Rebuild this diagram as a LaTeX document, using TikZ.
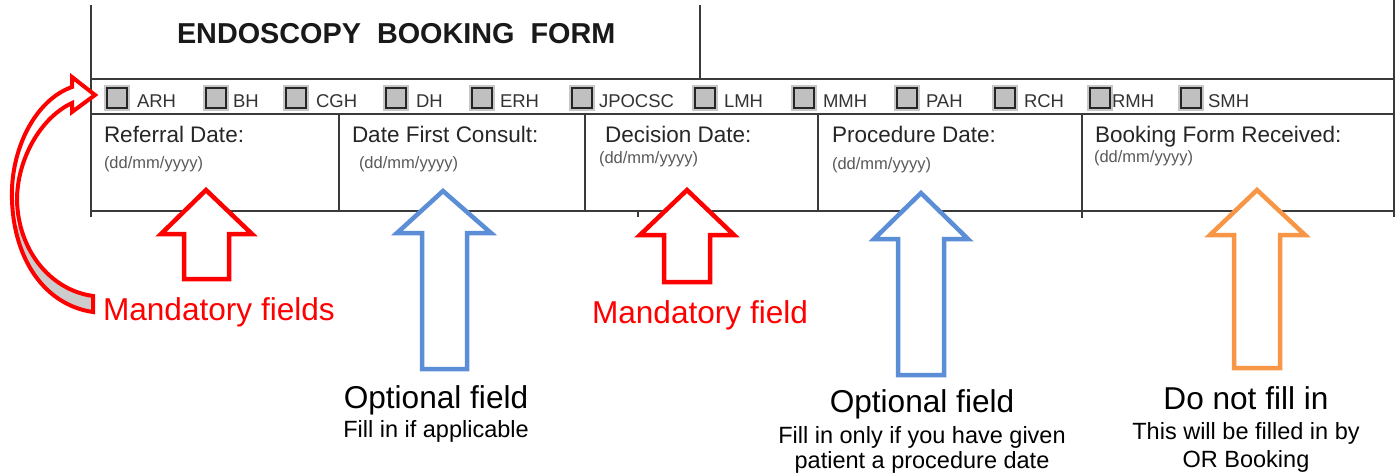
\documentclass[tikz,border=0pt]{standalone}
\usepackage{fontspec}
\setmainfont{Liberation Sans}
\usepackage{tikz}
\definecolor{markred}{HTML}{FF0000}
\definecolor{markblue}{HTML}{5B8ED6}
\definecolor{markorange}{HTML}{F79646}
\definecolor{formgrey}{HTML}{3A3A3A}
\definecolor{boxfill}{HTML}{C0C0C0}

\begin{document}
\begin{tikzpicture}[x=1pt,y=-1pt,inner sep=0pt,outer sep=0pt]
	\tikzset{formline/.style={draw=formgrey,line width=2pt}}
	\tikzset{tickbox/.style={draw=black!85,line width=2pt,fill=boxfill,minimum size=20pt,preaction={draw=black!22,line width=6pt}}}
	\tikzset{boxtext/.style={anchor=base west,text=black!80,font=\fontsize{18.5}{18.5}\selectfont}}
	\tikzset{fieldtext/.style={anchor=base west,text=black!85,font=\fontsize{22.5}{22.5}\selectfont}}
	\tikzset{datetext/.style={anchor=base west,text=black!65,font=\fontsize{16.5}{16.5}\selectfont}}
	\tikzset{bignote/.style={anchor=base,font=\fontsize{31.6}{31.6}\selectfont}}
	\tikzset{smallnote/.style={anchor=base,font=\fontsize{23.5}{23.5}\selectfont}}
	\tikzset{blockarrow/.style={fill=white,line width=4.5pt}}
	\useasboundingbox (0,0) rectangle (1397,475);
	\draw[formline] (91,5) -- (91,217);
	\draw[formline] (1394,0) -- (1394,217);
	\draw[formline] (700,5) -- (700,79);
	\draw[formline] (91,79) -- (1394,79);
	\draw[formline] (91,114) -- (1394,114);
	\draw[formline] (91,211) -- (1394,211);
	\draw[formline] (339,114) -- (339,211);
	\draw[formline] (585,114) -- (585,211);
	\draw[formline] (818,114) -- (818,211);
	\draw[formline] (1082,114) -- (1082,218);
	\draw[formline] (638,211) -- (638,217);
	\node[anchor=base west,text=black!90,font=\fontsize{28.8}{30}\selectfont\bfseries] (title) at (177,43) {ENDOSCOPY\ \ BOOKING\ \ FORM};
	\node[tickbox] (bxARH) at (116.5,98) {};
	\node[boxtext] (lbARH) at (137,107) {ARH};
	\node[tickbox] (bxBH) at (215.5,98) {};
	\node[boxtext] (lbBH) at (233,107) {BH};
	\node[tickbox] (bxCGH) at (295.5,98) {};
	\node[boxtext] (lbCGH) at (316,107) {CGH};
	\node[tickbox] (bxDH) at (395.5,98) {};
	\node[boxtext] (lbDH) at (416,107) {DH};
	\node[tickbox] (bxERH) at (481.5,98) {};
	\node[boxtext] (lbERH) at (500,107) {ERH};
	\node[tickbox] (bxJPOCSC) at (581.5,98) {};
	\node[boxtext] (lbJPOCSC) at (599,107) {JPOCSC};
	\node[tickbox] (bxLMH) at (704.5,98) {};
	\node[boxtext] (lbLMH) at (724,107) {LMH};
	\node[tickbox] (bxMMH) at (803.5,98) {};
	\node[boxtext] (lbMMH) at (823,107) {MMH};
	\node[tickbox] (bxPAH) at (906.5,98) {};
	\node[boxtext] (lbPAH) at (926,107) {PAH};
	\node[tickbox] (bxRCH) at (1004.5,98) {};
	\node[boxtext] (lbRCH) at (1024,107) {RCH};
	\node[tickbox] (bxRMH) at (1099.5,98) {};
	\node[boxtext] (lbRMH) at (1112,107) {RMH};
	\node[tickbox] (bxSMH) at (1190.5,98) {};
	\node[boxtext] (lbSMH) at (1208,107) {SMH};
	\node[fieldtext] (referral) at (104,142) {Referral\ Date:};
	\node[datetext] (referraldd) at (104,168) {(dd/mm/yyyy)};
	\node[fieldtext] (consult) at (352,142) {Date First Consult:};
	\node[datetext] (consultdd) at (359,168) {(dd/mm/yyyy)};
	\node[fieldtext] (decision) at (605,142) {Decision Date:};
	\node[datetext] (decisiondd) at (599,163) {(dd/mm/yyyy)};
	\node[fieldtext] (procedure) at (832,142) {Procedure Date:};
	\node[datetext] (proceduredd) at (832,169) {(dd/mm/yyyy)};
	\node[fieldtext] (received) at (1095,142) {Booking Form Received:};
	\node[datetext] (receiveddd) at (1094,162) {(dd/mm/yyyy)};
	\draw[blockarrow,draw=markred] (161,234) -- (206,190) -- (252,234) -- (229,234) -- (229,279) -- (184,279) -- (184,234) -- cycle;
	\draw[blockarrow,draw=markblue] (397,233) -- (443,191) -- (491,233) -- (467,233) -- (467,369) -- (422,369) -- (422,233) -- cycle;
	\draw[blockarrow,draw=markred] (640,235) -- (687,190) -- (734,235) -- (710,235) -- (710,282) -- (664,282) -- (664,235) -- cycle;
	\draw[blockarrow,draw=markblue] (874,239) -- (921,193) -- (968,239) -- (944,239) -- (944,375) -- (898,375) -- (898,239) -- cycle;
	\draw[blockarrow,draw=markorange] (1210,235) -- (1257,190) -- (1305,235) -- (1280,235) -- (1280,368) -- (1234,368) -- (1234,235) -- cycle;
	\fill[white] (72,87) -- (72,77) -- (95,95) -- (72,112) -- (72,103) .. controls (40,118) and (17,160) .. (17,200) .. controls (18,250) and (50,290) .. (93,296) -- (93,312) .. controls (45,305) and (14,260) .. (12,200) .. controls (10,150) and (35,100) .. (72,87) -- cycle;
	\begin{scope}
		\clip (0,226) rectangle (100,330);
		\fill[black!20] (72,103) .. controls (40,118) and (17,160) .. (17,200) .. controls (18,250) and (50,290) .. (93,296) -- (93,312) .. controls (45,305) and (14,260) .. (12,200) .. controls (10,150) and (35,100) .. (72,87) -- cycle;
	\end{scope}
	\draw[markred,line width=4pt] (72,87) -- (72,77) -- (95,95) -- (72,112) -- (72,103) .. controls (40,118) and (17,160) .. (17,200) .. controls (18,250) and (50,290) .. (93,296) -- (93,312) .. controls (45,305) and (14,260) .. (12,200) .. controls (10,150) and (35,100) .. (72,87) -- cycle;
	\node[bignote,anchor=base west,text=markred] (mandfields) at (103,320) {Mandatory fields};
	\node[bignote,anchor=base west,text=markred] (mandfield) at (592,323) {Mandatory field};
	\node[bignote] (optfirst) at (436,408) {Optional field};
	\node[smallnote] (optfirstsub) at (436,437) {Fill in if applicable};
	\node[bignote] (optsecond) at (922,412) {Optional field};
	\node[smallnote] (optsecondsub) at (922,443) {Fill in only if you have given};
	\node[smallnote] (optsecondsubb) at (922,468) {patient a procedure date};
	\node[bignote] (donot) at (1246,409) {Do not fill in};
	\node[smallnote] (donotsub) at (1246,439) {This will be filled in by};
	\node[smallnote] (donotsubb) at (1246,467) {OR Booking};
\end{tikzpicture}
\end{document}
